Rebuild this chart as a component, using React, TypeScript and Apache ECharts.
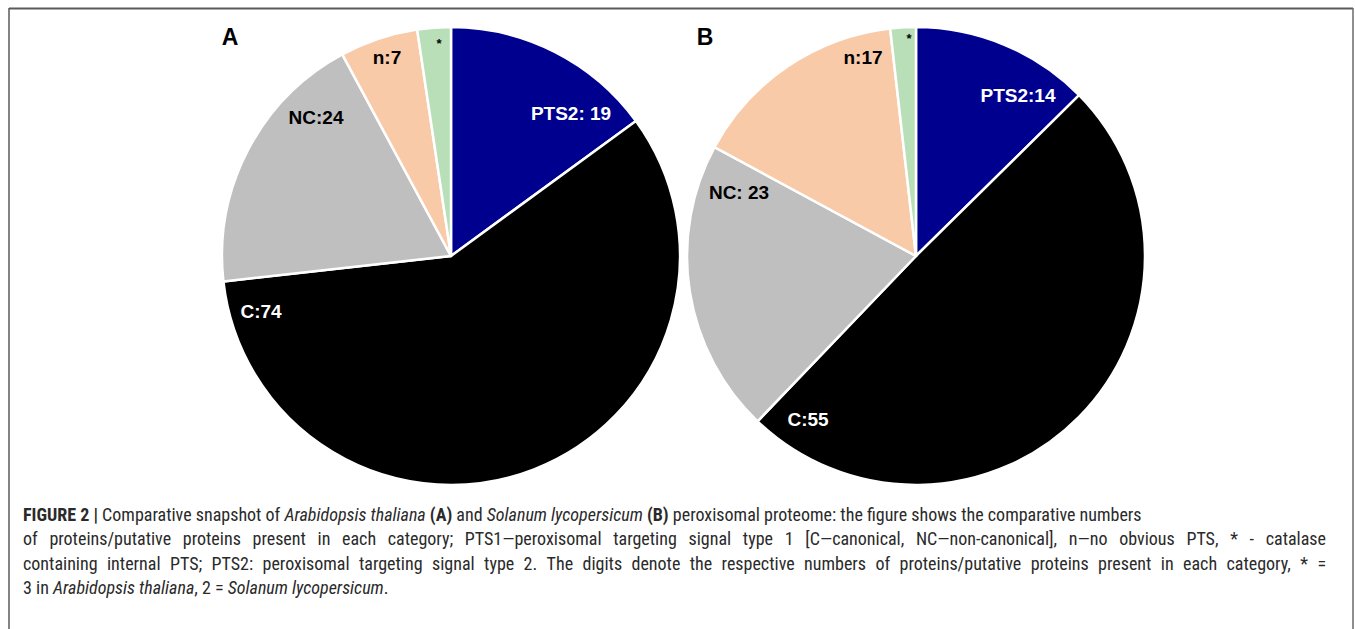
import React, { useEffect, useRef } from 'react';
import * as echarts from 'echarts';

const CATEGORIES = ['PTS2', 'C', 'NC', 'n', '*'];
const VALUES_A = [19, 74, 24, 7, 3];
const VALUES_B = [14, 55, 23, 17, 2];
const LABELS_A = ['PTS2: 19', 'C:74', 'NC:24', 'n:7', '*'];
const LABELS_B = ['PTS2:14', 'C:55', 'NC: 23', 'n:17', '*'];
const COLORS = ['#00008f', '#000000', '#bfbfbf', '#f9caa8', '#b9dfb9'];
const LABEL_COLORS = ['#ffffff', '#ffffff', '#000000', '#000000', '#000000'];

const LABEL_POS_A = [[571, 113], [261, 311], [316, 117], [387, 57], [439, 43]];
const LABEL_POS_B = [[1018, 95], [808, 419], [739, 192], [863, 57], [909, 38]];

const CAPTION = [
  '{b|FIGURE 2 |} Comparative snapshot of {i|Arabidopsis thaliana} {b|(A)} and {i|Solanum lycopersicum} {b|(B)} peroxisomal proteome: the figure shows the comparative numbers',
  'of proteins/putative proteins present in each category; PTS1\u2014peroxisomal targeting signal type 1 [C\u2014canonical, NC\u2014non-canonical], n\u2014no obvious PTS, * - catalase',
  'containing internal PTS; PTS2: peroxisomal targeting signal type 2. The digits denote the respective numbers of proteins/putative proteins present in each category, * =',
  '3 in {i|Arabidopsis thaliana}, 2 = {i|Solanum lycopersicum}.',
];
// lines that are justified (full width) in the original
const JUSTIFY = [false, true, true, false];

const CAP_FONT = "'Liberation Sans Narrow', 'Roboto Condensed', 'Liberation Sans', Arial, sans-serif";
const LBL_FONT = "'Liberation Sans', Arial, sans-serif";
const CAP_SIZE = 18;
const CAP_X = 23;
const CAP_RIGHT = 1326;
const CAP_COLOR = '#2a2a2a';

export default function App() {
  const ref = useRef<HTMLDivElement>(null);
  useEffect(() => {
    document.body.style.margin = '0';
    const chart = echarts.init(ref.current!, null, { renderer: 'svg' });
    const makeSeries = (name: string, values: number[], labels: string[], center: number[], pos: number[][]) => ({
      type: 'pie',
      name,
      center,
      radius: 229,
      startAngle: 90,
      clockwise: true,
      silent: true,
      avoidLabelOverlap: false,
      itemStyle: { borderColor: '#ffffff', borderWidth: 2.5 },
      label: { show: true, position: 'inside', fontWeight: 'bold', fontFamily: LBL_FONT },
      labelLine: { show: false },
      labelLayout: (p: any) => ({
        x: pos[p.dataIndex][0],
        y: pos[p.dataIndex][1],
        align: 'center',
        verticalAlign: 'middle',
      }),
      data: values.map((v, i) => ({
        name: CATEGORIES[i],
        value: v,
        itemStyle: { color: COLORS[i] },
        label: {
          formatter: labels[i],
          color: LABEL_COLORS[i],
          fontSize: i === 4 ? 13 : 19,
        },
      })),
    });

    const ctx = document.createElement('canvas').getContext('2d')!;
    ctx.font = `${CAP_SIZE}px ${CAP_FONT}`;
    const measure = (s: string) => ctx.measureText(s).width;

    const rich: any = {
      b: { fontWeight: 'bold', fontSize: CAP_SIZE, fontFamily: CAP_FONT, fill: CAP_COLOR },
      i: { fontStyle: 'italic', fontSize: CAP_SIZE, fontFamily: CAP_FONT, fill: CAP_COLOR },
    };

    const captionTexts = CAPTION.map((t, k) => {
      if (!JUSTIFY[k]) return t;
      const words = t.split(' ');
      const natural = measure(t);
      const n = words.length - 1;
      const spW = measure(' ') + (CAP_RIGHT - CAP_X - natural) / n;
      rich['sp' + k] = { width: spW, fontSize: CAP_SIZE, fontFamily: CAP_FONT, fill: CAP_COLOR };
      return words.join(`{sp${k}|\u00a0}`);
    });

    chart.setOption({
      animation: false,
      backgroundColor: '#ffffff',
      series: [
        makeSeries('A', VALUES_A, LABELS_A, [451, 256], LABEL_POS_A),
        makeSeries('B', VALUES_B, LABELS_B, [916, 256], LABEL_POS_B),
      ],
      graphic: [
        { type: 'line', shape: { x1: 9, y1: 8.5, x2: 1353, y2: 8.5 }, style: { stroke: '#5a5a5a', lineWidth: 2 } },
        { type: 'line', shape: { x1: 9, y1: 8, x2: 9, y2: 629 }, style: { stroke: '#5a5a5a', lineWidth: 1.5 } },
        { type: 'line', shape: { x1: 1353, y1: 8, x2: 1353, y2: 629 }, style: { stroke: '#6a6a6a', lineWidth: 1.5 } },
        { type: 'text', x: 230, y: 37, style: { text: 'A', fontSize: 23, fontWeight: 'bold', fontFamily: LBL_FONT, fill: '#000', align: 'center', verticalAlign: 'middle' } },
        { type: 'text', x: 705, y: 37, style: { text: 'B', fontSize: 23, fontWeight: 'bold', fontFamily: LBL_FONT, fill: '#000', align: 'center', verticalAlign: 'middle' } },
        ...captionTexts.map((t, k) => ({
          type: 'text',
          x: CAP_X,
          y: 514 + k * 24.5,
          style: {
            text: t,
            rich,
            fontSize: CAP_SIZE,
            fontFamily: CAP_FONT,
            fill: CAP_COLOR,
            align: 'left',
            verticalAlign: 'middle',
          },
        })),
      ],
    });
    return () => chart.dispose();
  }, []);
  return <div ref={ref} style={{ position: 'fixed', left: 0, top: 0, width: 1355, height: 629 }} />;
}
